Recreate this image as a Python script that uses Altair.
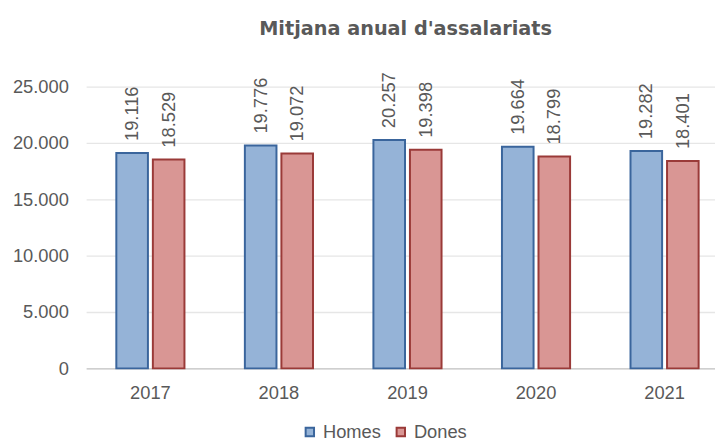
import altair as alt
import pandas as pd

years = ["2017", "2018", "2019", "2020", "2021"]
homes = [19116, 19776, 20257, 19664, 19282]
dones = [18529, 19072, 19398, 18799, 18401]
series = ["Homes", "Dones"]
fills = ["#95B3D7", "#D99694"]
strokes = ["#3A659C", "#9A3A38"]

rows = []
for i, y in enumerate(years):
    rows.append({"any": y, "sexe": "Homes", "valor": homes[i]})
    rows.append({"any": y, "sexe": "Dones", "valor": dones[i]})
df = pd.DataFrame(rows)

FONT = "Liberation Sans"
GRAY = "#595959"
FS = 18.5

x = alt.X("any:N", title=None, sort=years,
          scale=alt.Scale(paddingInner=0.47, paddingOuter=0.235),
          axis=alt.Axis(labelAngle=0, domain=False, ticks=False, labelFontSize=FS,
                        labelColor=GRAY, labelFont=FONT, labelPadding=15))
xo = alt.XOffset("sexe:N", sort=series,
                 scale=alt.Scale(paddingInner=0.135, paddingOuter=0))

bars = alt.Chart(df).mark_bar(strokeWidth=2).encode(
    x=x,
    xOffset=xo,
    y=alt.Y("valor:Q", title=None,
            scale=alt.Scale(domain=[0, 25000], nice=False),
            axis=alt.Axis(values=[0, 5000, 10000, 15000, 20000, 25000],
                          labelExpr="replace(format(datum.value, ','), ',', '.')",
                          domain=False, ticks=False, labelFontSize=FS,
                          labelColor=GRAY, labelFont=FONT, labelPadding=18,
                          gridColor=alt.condition("datum.value === 0",
                                                  alt.value("#BFBFBF"),
                                                  alt.value("#E6E6E6")),
                          gridWidth=1.3)),
    color=alt.Color("sexe:N", sort=series, title=None,
                    scale=alt.Scale(domain=series, range=fills),
                    legend=alt.Legend(orient="none", legendX=217, legendY=340,
                                      direction="horizontal", symbolType="square",
                                      symbolSize=72, symbolStrokeWidth=2,
                                      labelFontSize=FS, labelColor=GRAY,
                                      labelFont=FONT, columnPadding=10,
                                      labelOffset=4)),
    stroke=alt.Stroke("sexe:N", sort=series, title=None,
                      scale=alt.Scale(domain=series, range=strokes)),
)

labels = alt.Chart(df).transform_calculate(
    etiqueta="replace(format(datum.valor, ','), ',', '.')"
).mark_text(angle=270, align="left", baseline="middle", dx=12,
            fontSize=FS, font=FONT, color=GRAY).encode(
    x=x,
    xOffset=xo,
    y=alt.Y("valor:Q"),
    text="etiqueta:N",
)

chart = alt.layer(bars, labels).properties(
    width=650, height=285,
    autosize=alt.AutoSizeParams(type="none"),
    title=alt.TitleParams("Mitjana anual d'assalariats", fontSize=19.5,
                          font="DejaVu Sans", fontWeight="bold", color=GRAY,
                          anchor="start", frame="group", offset=33, dx=175),
    padding={"left": 79, "top": 77, "right": -14, "bottom": 72},
).configure_view(stroke=None)

chart.save("out.html", embed_options={"renderer": "svg", "actions": False})
